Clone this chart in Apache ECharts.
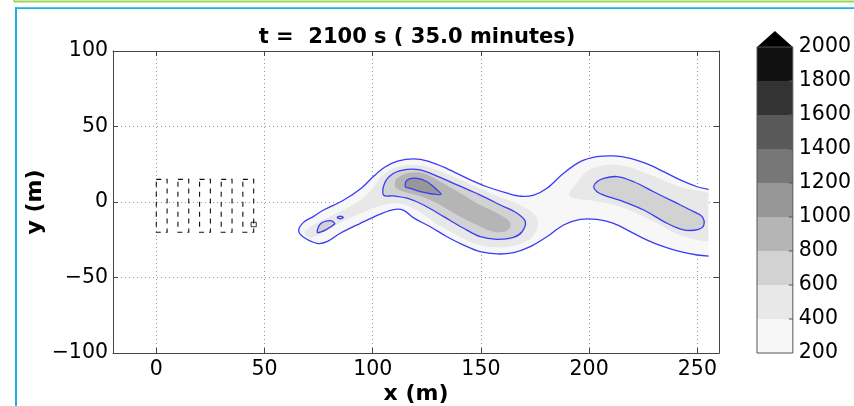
<!DOCTYPE html>
<html><head><meta charset="utf-8">
<script src="https://cdn.jsdelivr.net/npm/echarts@6/dist/echarts.min.js"></script>
<style>html,body{margin:0;padding:0;background:#fff}#c{width:854px;height:406px}</style>
</head><body><div id="c"></div>
<script>
// ---------- data ----------
const titleText = 't =  2100 s ( 35.0 minutes)';
const xName = 'x (m)';
const yName = 'y (m)';
const xRange = [-20, 260];
const yRange = [-100, 100];
const levels = [200, 400, 600, 800, 1000, 1200, 1400, 1600, 1800, 2000];
const levelColors = ['#f7f7f7', '#e8e8e8', '#d2d2d2', '#b5b5b5', '#979797', '#777777', '#595959', '#333333', '#111111'];
const extendColor = '#000000';

// contour 200 (open at the right cut x=255)
const contour200 = [[255.2,-35.8],[249.9,-35.1],[242.1,-32.9],[234.4,-29.6],[226.8,-25.2],[219,-19.6],[211.3,-14.1],[203.6,-11.5],[195.9,-11.5],[188.2,-15.2],[180.5,-23],[172.8,-29.6],[165.1,-33.5],[157.4,-34.4],[149.7,-32.9],[142,-28.5],[134.3,-23],[126.6,-16.4],[118.9,-10.5],[114.3,-5.5],[109.7,-5],[103.5,-8],[94.3,-14.1],[85,-20.7],[78.9,-26.3],[74.3,-27.4],[68.1,-23.4],[65.8,-19],[68,-13.5],[72.7,-9.5],[77.3,-5.3],[86.6,1.3],[95,9.5],[100.4,17],[105.5,23],[111.5,27],[118.9,28.5],[125.5,27],[134.5,22],[143.6,15.7],[152.8,10.1],[162.1,5.8],[168.2,3.8],[174.4,4.6],[180.5,9.1],[188.2,19],[195.9,26.7],[203.6,30],[211.3,30.5],[219,28.9],[226.8,25.2],[234.4,20.1],[242.1,14.6],[249.9,10.1],[255.2,8.4]];
const contour400Mid = [[68.5,-20],[74,-14],[84,-7],[94,1],[100,9],[104,17],[110,22.5],[118,24.5],[126,23],[136,17.5],[146,11],[156,5],[165,0],[172,-5],[176,-11],[176,-18],[172,-25],[165,-29],[156,-30],[148,-28],[139,-22],[130,-15],[122,-7],[114,-1.5],[106,-1.5],[97,-6],[86,-13],[77,-20],[71,-23.5]];
const contour400Right = [[255,-26],[242,-22],[230,-13],[214,-3],[201,1],[191,4],[195,14],[201,22],[214,24.5],[230,17],[242,10],[255,6]];
const contour600Mid = [[105,4.6],[105.6,12.8],[109.7,19],[115.9,21.6],[122,21.2],[129.7,17.2],[139,11.3],[149.7,4.6],[159,-2],[166.7,-7.5],[170.5,-13],[169,-19.7],[165.1,-23.4],[157.4,-24.7],[149.7,-23],[142,-17.4],[132.8,-9.7],[123.5,-2],[115.9,2.5],[109.7,4]];
const contour600Right = [[202.1,10.1],[203.6,13.4],[206.7,15.7],[212.9,16.8],[220.6,13.4],[229.8,6.8],[239.1,0.2],[248.3,-6.4],[252.2,-9.7],[253,-15.2],[250.6,-18.1],[243.7,-18.5],[236,-14.1],[225.2,-5.3],[215.9,0.2],[206.7,4.6],[203.6,6.8]];
const contour600Left = [[74.6,-20.3],[75.8,-14.6],[80.4,-12.4],[82.4,-14.6]];
const contour600Dot = [[83.6,-10.2],[85,-9.3],[86.4,-10.2],[85,-11.1]];
const contour800Mid = [[110.4,10.1],[111.2,15.7],[117.4,19.4],[123.5,19],[131.2,13.4],[140.5,5.8],[149.7,-2],[159,-8.6],[163.6,-14.1],[162.1,-19],[155.9,-19.7],[148.2,-15.2],[139,-8.6],[129.7,-0.9],[122,4],[114.3,6.8]];
const contour1000Mid = [[115.1,10.1],[115.9,14.6],[120.5,15.7],[125.1,13.4],[128.9,9.1],[131.6,5.1],[127.4,5.3],[122,6.8],[117.4,9.1]];

// dashed building outlines
const buildingX0 = [0, 10, 20, 30, 40];
const buildingX1 = [5, 15, 25, 35, 45];
const buildingY0 = [-20, -20, -20, -20, -20];
const buildingY1 = [15, 15, 15, 15, 15];
const sourceBox = [[43.8, -16.4], [46.2, -13.4]];

// ---------- build ----------
const contourShapes = [
  { pts: contour200, level: 200, line: 'open', cut: true },
  { pts: contour400Mid, level: 400 },
  { pts: contour400Right, level: 400, cut: true },
  { pts: contour600Mid, level: 600, line: 'closed' },
  { pts: contour600Right, level: 600, line: 'closed' },
  { pts: contour600Left, level: 600, line: 'closed' },
  { pts: contour600Dot, level: 600, line: 'closed' },
  { pts: contour800Mid, level: 800 },
  { pts: contour1000Mid, level: 1000, line: 'closed' }
];
const lineColor = '#3b3bf5';
const FONT = '"DejaVu Sans", sans-serif';
const SM = 0.35;

function renderContour(params, api) {
  const s = contourShapes[params.dataIndex];
  const pts = s.pts.map(p => api.coord(p));
  let fillPts = pts;
  if (s.cut) {
    // add points along the straight cut edge so smoothing keeps it straight
    const a = pts[pts.length - 1], b = pts[0];
    fillPts = pts.concat([0.1, 0.3, 0.5, 0.7, 0.9].map(t => [a[0] + (b[0] - a[0]) * t, a[1] + (b[1] - a[1]) * t]));
  }
  const fill = levelColors[levels.indexOf(s.level)];
  const children = [{ type: 'polygon', shape: { points: fillPts, smooth: SM }, style: { fill: fill, stroke: 'none' } }];
  if (s.line === 'open') {
    children.push({ type: 'polyline', shape: { points: pts, smooth: SM }, style: { fill: 'none', stroke: lineColor, lineWidth: 1.3 } });
  } else if (s.line === 'closed') {
    children.push({ type: 'polygon', shape: { points: pts, smooth: SM }, style: { fill: 'none', stroke: lineColor, lineWidth: 1.3 } });
  }
  return { type: 'group', children: children };
}

const buildingData = buildingX0.map((x0, i) => [x0, buildingY0[i], buildingX1[i], buildingY1[i]]);
function renderBuilding(params, api) {
  const a = api.coord([api.value(0), api.value(1)]);
  const b = api.coord([api.value(2), api.value(3)]);
  return { type: 'rect', shape: { x: a[0], y: b[1], width: b[0] - a[0], height: a[1] - b[1] },
    style: { fill: 'none', stroke: '#111', lineWidth: 1.1, lineDash: [5, 5] } };
}
function renderSource(params, api) {
  const a = api.coord(sourceBox[0]);
  const b = api.coord(sourceBox[1]);
  return { type: 'rect', shape: { x: a[0], y: b[1], width: b[0] - a[0], height: a[1] - b[1] },
    style: { fill: 'none', stroke: '#000', lineWidth: 0.8 } };
}

const cbData = levels.slice(0, -1).map((lo, i) => [0.5, lo, levels[i + 1], i]);
function renderBand(params, api) {
  const a = api.coord([0, api.value(1)]);
  const b = api.coord([1, api.value(2)]);
  return { type: 'rect', shape: { x: a[0], y: b[1], width: b[0] - a[0], height: a[1] - b[1] },
    style: { fill: levelColors[api.value(3)] } };
}
function renderCbFrame(params, api) {
  const top = levels[levels.length - 1];
  const a = api.coord([0, levels[0]]);
  const b = api.coord([1, top]);
  const children = [
    { type: 'polygon', shape: { points: [[a[0], b[1]], [b[0], b[1]], [(a[0] + b[0]) / 2, b[1] - 16]] },
      style: { fill: extendColor } },
    { type: 'rect', shape: { x: a[0], y: b[1], width: b[0] - a[0], height: a[1] - b[1] },
      style: { fill: 'none', stroke: '#555', lineWidth: 1 } }
  ];
  levels.slice(1, -1).forEach(v => {
    const p = api.coord([1, v]);
    children.push({ type: 'line', shape: { x1: p[0] - 4, y1: p[1], x2: p[0], y2: p[1] }, style: { stroke: '#555', lineWidth: 1 } });
  });
  return { type: 'group', children: children };
}

const minus = v => String(v).replace('-', '\u2212');
const tickLabel = { color: '#000', fontSize: 20.5, fontFamily: FONT };
const chart = echarts.init(document.getElementById('c'));
chart.setOption({
  animation: false,
  backgroundColor: '#fff',
  grid: [
    { left: 113, top: 51, width: 606, height: 302 },
    { left: 757, top: 47, width: 38, height: 306 }
  ],
  xAxis: [
    { type: 'value', gridIndex: 0, min: xRange[0], max: xRange[1], splitNumber: 5,
      axisLine: { show: true, onZero: false, lineStyle: { color: '#444' } },
      axisTick: { inside: true, length: 5, lineStyle: { color: '#444' } },
      axisLabel: { ...tickLabel, margin: 6, showMinLabel: false, showMaxLabel: false, formatter: minus },
      splitLine: { show: true, lineStyle: { type: [1, 3], color: '#999' } } },
    { type: 'value', gridIndex: 0, position: 'top', min: xRange[0], max: xRange[1], splitNumber: 5,
      axisLine: { show: true, onZero: false, lineStyle: { color: '#444' } },
      axisTick: { inside: true, length: 5, lineStyle: { color: '#444' } },
      axisLabel: { show: false }, splitLine: { show: false } },
    { type: 'value', gridIndex: 1, min: 0, max: 1, show: false }
  ],
  yAxis: [
    { type: 'value', gridIndex: 0, min: yRange[0], max: yRange[1], interval: 50,
      axisLine: { show: true, onZero: false, lineStyle: { color: '#444' } },
      axisTick: { inside: true, length: 5, lineStyle: { color: '#444' } },
      axisLabel: { ...tickLabel, margin: 5, formatter: minus },
      splitLine: { show: true, lineStyle: { type: [1, 3], color: '#999' } } },
    { type: 'value', gridIndex: 0, position: 'right', min: yRange[0], max: yRange[1], interval: 50,
      axisLine: { show: true, onZero: false, lineStyle: { color: '#444' } },
      axisTick: { inside: true, length: 5, lineStyle: { color: '#444' } },
      axisLabel: { show: false }, splitLine: { show: false } },
    { type: 'value', gridIndex: 1, position: 'right', min: levels[0], max: levels[levels.length - 1], interval: 200,
      axisLine: { show: false },
      axisTick: { show: false },
      axisLabel: { ...tickLabel, margin: 6, formatter: v => String(v) },
      splitLine: { show: false } }
  ],
  series: [
    { type: 'custom', xAxisIndex: 0, yAxisIndex: 0, clip: true, renderItem: renderContour,
      data: contourShapes.map(s => [s.pts[0][0], s.pts[0][1]]), z: 3 },
    { type: 'custom', xAxisIndex: 0, yAxisIndex: 0, clip: true, renderItem: renderBuilding,
      data: buildingData, encode: { x: [0, 2], y: [1, 3] }, z: 4 },
    { type: 'custom', xAxisIndex: 0, yAxisIndex: 0, clip: true, renderItem: renderSource,
      data: [sourceBox[0]], z: 4 },
    { type: 'custom', xAxisIndex: 2, yAxisIndex: 2, renderItem: renderBand,
      data: cbData, encode: { x: 0, y: [1, 2] }, z: 3 },
    { type: 'custom', xAxisIndex: 2, yAxisIndex: 2, renderItem: renderCbFrame,
      data: [[0.5, levels[0]]], z: 4 }
  ],
  graphic: [
    { type: 'line', shape: { x1: 14, y1: 1.5, x2: 854, y2: 1.5 }, style: { stroke: '#9ed35a', lineWidth: 2 } },
    { type: 'line', shape: { x1: 14, y1: 0, x2: 14, y2: 2 }, style: { stroke: '#9ed35a', lineWidth: 1.5 } },
    { type: 'line', shape: { x1: 15, y1: 8.2, x2: 854, y2: 8.2 }, style: { stroke: '#1cb1e6', lineWidth: 1.8 } },
    { type: 'line', shape: { x1: 16, y1: 7.3, x2: 16, y2: 406 }, style: { stroke: '#1cb1e6', lineWidth: 2 } },
    { type: 'text', x: 417, y: 38, style: { text: titleText, font: 'bold 21px ' + FONT, fill: '#000', align: 'center', verticalAlign: 'middle' } },
    { type: 'text', x: 416, y: 394, style: { text: xName, font: 'bold 22px ' + FONT, fill: '#000', align: 'center', verticalAlign: 'middle' } },
    { type: 'text', x: 35, y: 202, rotation: Math.PI / 2, style: { text: yName, font: 'bold 22px ' + FONT, fill: '#000', align: 'center', verticalAlign: 'middle' } }
  ]
});
</script>
</body></html>
